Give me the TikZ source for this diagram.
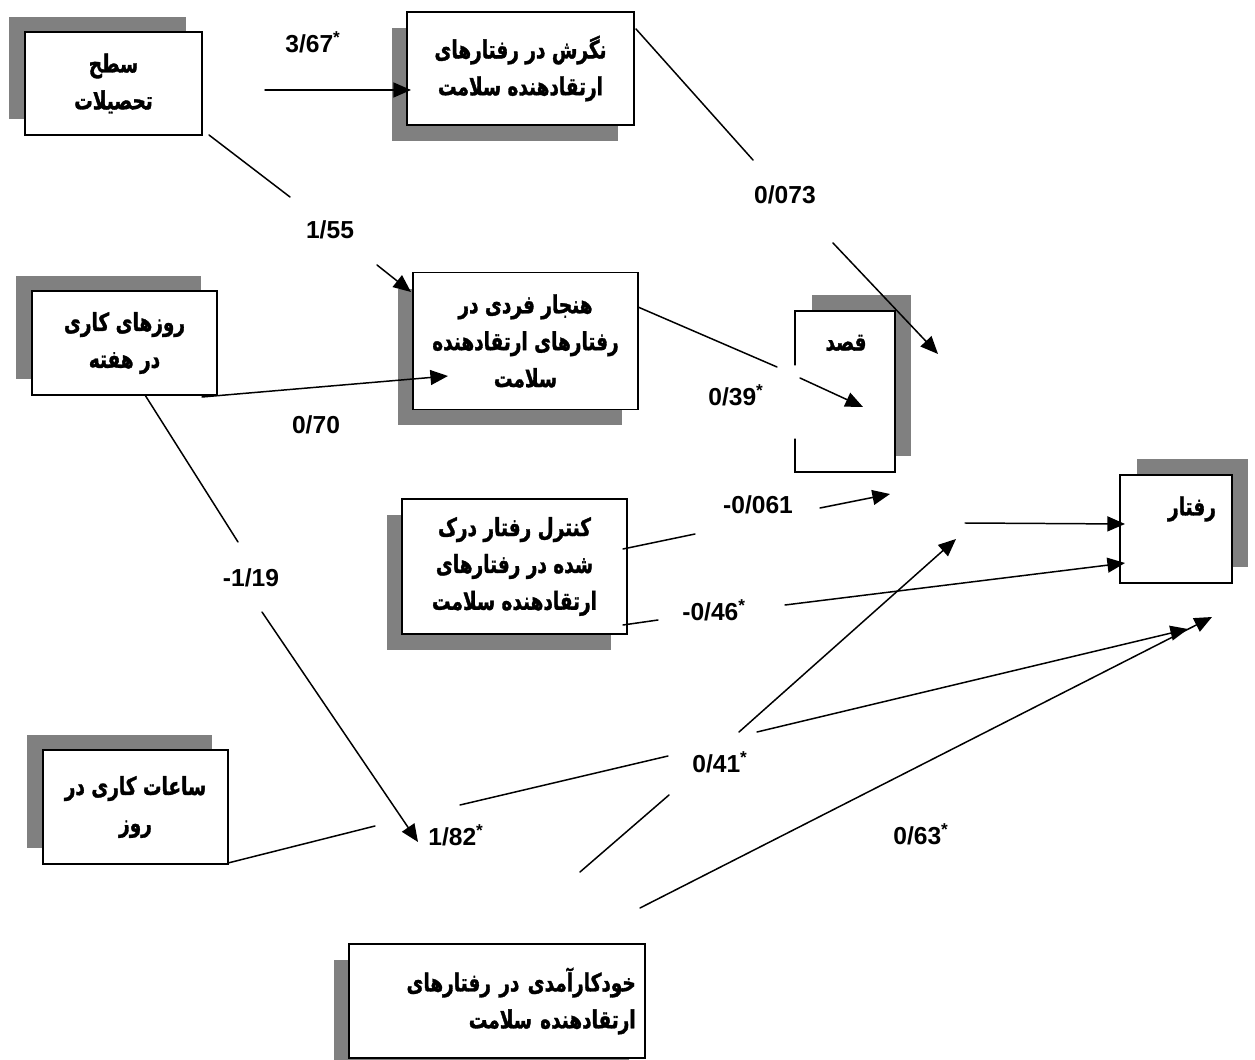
\documentclass[tikz,border=0pt]{standalone}
\usepackage{fontspec}
\setmainfont{Liberation Sans}
\newfontfamily\fa[Script=Arabic, FakeStretch=0.74, BoldFeatures={FakeBold=1.3}]{DejaVu Sans}
\TeXXeTstate=1
\usetikzlibrary{arrows.meta,shadows}
\newcommand{\rl}[1]{\beginR#1\endR}
\tikzset{
  box/.style={draw, line width=1.1pt, fill=white, align=center, inner sep=0pt,
    font=\fa\bfseries\fontsize{14.2}{21}\selectfont},
  fatext/.style={inner sep=0pt, font=\fa\bfseries\fontsize{14.2}{21}\selectfont},
  shTL/.style={drop shadow={shadow xshift=-0.32cm, shadow yshift=0.31cm, fill=gray, opacity=1}},
  shBL/.style={drop shadow={shadow xshift=-0.31cm, shadow yshift=-0.32cm, fill=gray, opacity=1}},
  shTR/.style={drop shadow={shadow xshift=0.33cm, shadow yshift=0.32cm, fill=gray, opacity=1}},
  coef/.style={inner sep=0pt, font=\bfseries\fontsize{14}{16}\selectfont},
  link/.style={line width=0.85pt},
  arr/.style={link, -{Triangle[length=10pt,width=8.5pt]}}
}
\begin{document}
\begin{tikzpicture}[x=0.02cm, y=-0.02cm, line cap=round]
\useasboundingbox[fill=white] (0,0) rectangle (1255,1060);
% boxes
\node[box, shTL, minimum width=3.54cm, minimum height=2.06cm] (tahsil) at (113.5,83.5)
  {\rl{سطح}\\\rl{تحصیلات}};
\node[box, shBL, minimum width=4.54cm, minimum height=2.26cm] (negaresh) at (520.5,68.5)
  {\rl{نگرش در رفتارهای}\\\rl{ارتقادهنده سلامت}};
\node[box, shTL, minimum width=3.7cm, minimum height=2.08cm] (rooz) at (124.5,343)
  {\rl{روزهای کاری}\\\rl{در هفته}};
\node[box, shBL, minimum width=4.5cm, minimum height=2.74cm] (hanjar) at (525.5,341)
  {\rl{هنجار فردی در}\\\rl{رفتارهای ارتقادهنده}\\\rl{سلامت}};
\node[box, shTR, minimum width=2cm, minimum height=3.22cm] (qasd) at (845,391.5) {};
\node[fatext] (qasdtxt) at (846,343) {\rl{قصد}};
\node[box, shBL, minimum width=4.5cm, minimum height=2.7cm] (control) at (514.5,566.5)
  {\rl{کنترل رفتار درک}\\\rl{شده در رفتارهای}\\\rl{ارتقادهنده سلامت}};
\node[box, shTL, minimum width=3.7cm, minimum height=2.28cm] (saat) at (135.5,807)
  {\rl{ساعات کاری در}\\\rl{روز}};
\node[box, shBL, minimum width=5.92cm, minimum height=2.28cm, text width=5.55cm, align=right] (khod) at (497,1001)
  {\rl{خودکارآمدی در رفتارهای}\\\rl{ارتقادهنده سلامت}};
\node[box, shTR, minimum width=2.24cm, minimum height=2.16cm] (raftar) at (1176,529) {};
\node[fatext] (raftartxt) at (1192,509) {\rl{رفتار}};
% gap in the left side of qasd
\draw[white, line width=2pt] (795,367) -- (795,437);
% coefficients
\node[coef, anchor=west] (l367) at (285,42) {3/67\textsuperscript{*}};
\node[coef] (l155) at (330,230) {1/55};
\node[coef] (l0073) at (785,195) {0/073};
\node[coef] (l070) at (316,425) {0/70};
\node[coef, anchor=west] (l039) at (708,395) {0/39\textsuperscript{*}};
\node[coef] (l119) at (251,578) {-1/19};
\node[coef, anchor=west] (l182) at (428,835) {1/82\textsuperscript{*}};
\node[coef, anchor=west] (l041) at (692,762) {0/41\textsuperscript{*}};
\node[coef, anchor=west] (l063) at (893,834) {0/63\textsuperscript{*}};
\node[coef] (l0061) at (758,505) {-0/061};
\node[coef, anchor=west] (l046) at (682,610) {-0/46\textsuperscript{*}};
% end points of the paths
\path
(265,90) coordinate (c1a) (411,90) coordinate (c1b)
(209,135) coordinate (c2a) (290,197) coordinate (c2b) (377,265) coordinate (c2c) (411,292) coordinate (c2d)
(636,29) coordinate (c3a) (753,160) coordinate (c3b) (833,243) coordinate (c3c) (938,354) coordinate (c3d)
(202,397) coordinate (c4a) (448,376) coordinate (c4b)
(638,307) coordinate (c5a) (777,367) coordinate (c5b) (800,378) coordinate (c5c) (863,407) coordinate (c5d)
(145,395) coordinate (c6a) (238,542) coordinate (c6b) (262,612) coordinate (c6c) (418,842) coordinate (c6d)
(228,863) coordinate (c7a) (375,826) coordinate (c7b) (460,805) coordinate (c7c) (668,756) coordinate (c7d)
(757,732) coordinate (c7e) (1188,629) coordinate (c7f)
(580,872) coordinate (c8a) (669,795) coordinate (c8b) (739,732) coordinate (c8c) (956,539) coordinate (c8d)
(965,523) coordinate (c9a) (1125,524) coordinate (c9b)
(640,908) coordinate (c10a) (1212,617) coordinate (c10b)
(623,549) coordinate (c11a) (695,534) coordinate (c11b) (820,508) coordinate (c11c) (890,494) coordinate (c11d)
(623,625) coordinate (c12a) (658,620) coordinate (c12b) (785,605) coordinate (c12c) (1125,563) coordinate (c12d)
;
% paths
\draw[arr] (c1a) -- (c1b);
\draw[link] (c2a) -- (c2b);
\draw[arr] (c2c) -- (c2d);
\draw[link] (c3a) -- (c3b);
\draw[arr] (c3c) -- (c3d);
\draw[arr] (c4a) -- (c4b);
\draw[link] (c5a) -- (c5b);
\draw[arr] (c5c) -- (c5d);
\draw[link] (c6a) -- (c6b);
\draw[arr] (c6c) -- (c6d);
\draw[link] (c7a) -- (c7b) (c7c) -- (c7d);
\draw[arr] (c7e) -- (c7f);
\draw[link] (c8a) -- (c8b);
\draw[arr] (c8c) -- (c8d);
\draw[arr] (c9a) -- (c9b);
\draw[arr] (c10a) -- (c10b);
\draw[link] (c11a) -- (c11b);
\draw[arr] (c11c) -- (c11d);
\draw[link] (c12a) -- (c12b);
\draw[arr] (c12c) -- (c12d);
\end{tikzpicture}
\end{document}
